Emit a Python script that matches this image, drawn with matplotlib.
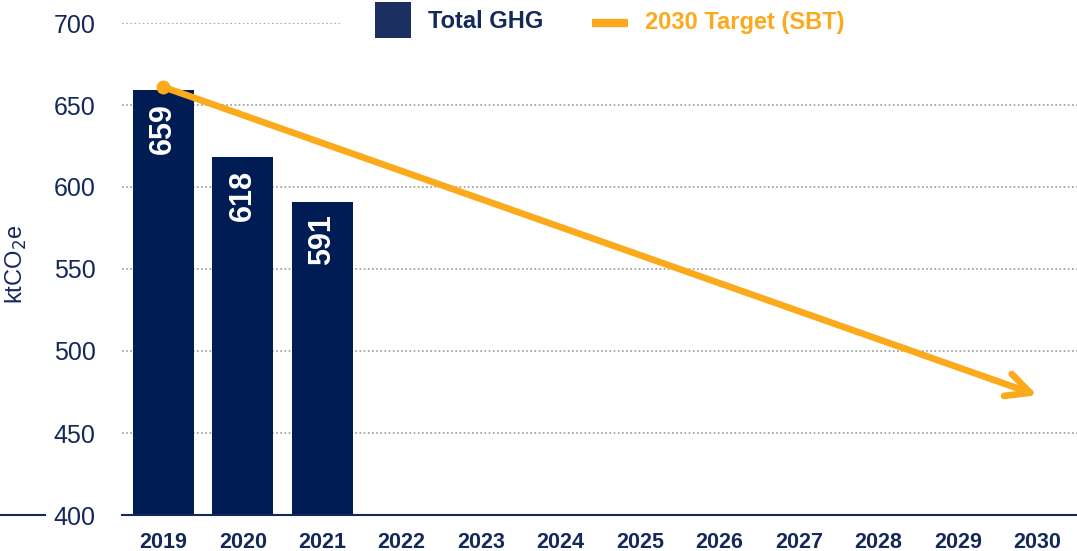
import matplotlib.pyplot as plt
from matplotlib.patches import Rectangle
from matplotlib.lines import Line2D

plt.rcParams['font.family'] = ['Liberation Sans', 'DejaVu Sans']

years = ['2019', '2020', '2021', '2022', '2023', '2024', '2025', '2026', '2027', '2028', '2029', '2030']
ghg = [659, 618, 591]
target_start = 661
target_end = 473
yticks = [400, 450, 500, 550, 600, 650, 700]

navy = '#001c54'
navy_txt = '#14285a'
orange = '#fbaa1c'

fig = plt.figure(figsize=(10.77, 5.51), dpi=100)
ax = fig.add_axes([122/1077, 36/551, 1 - 122/1077, (515-23)/551])

x = list(range(len(years)))
bars = ax.bar(x[:len(ghg)], ghg, width=0.77, color=navy, zorder=3)
for xi, v in zip(x, ghg):
    ax.annotate(str(v), (xi, v), xytext=(0, -9), textcoords='offset points',
                rotation=90, ha='center', va='top', color='white',
                fontsize=22, fontweight='bold', zorder=4)

# target arrow
ax.annotate('', xy=(x[-1], target_end), xytext=(x[0], target_start),
            arrowprops=dict(arrowstyle='->,head_length=0.85,head_width=0.42',
                            lw=4.8, color=orange, shrinkA=0, shrinkB=0,
                            mutation_scale=20, capstyle='round', joinstyle='round'),
            zorder=5)
ax.plot([x[0]], [target_start], 'o', color=orange, ms=9, zorder=6)

ax.set_xlim(-0.52, 11.5)
ax.set_ylim(400, 700)
ax.set_yticks(yticks)
ax.set_xticks(x)
ax.set_xticklabels(years, fontweight='bold', fontsize=15.5, color=navy_txt)
ax.tick_params(axis='x', length=0, pad=12)
ax.tick_params(axis='y', length=0, pad=19, labelsize=18, labelcolor=navy_txt)
ax.grid(axis='y', linestyle=(0, (1, 1.5)), color='#9a9a9a', lw=1.2, zorder=0)
for s in ['top', 'right', 'left']:
    ax.spines[s].set_visible(False)
ax.spines['bottom'].set_color(navy_txt)
ax.spines['bottom'].set_linewidth(1.5)
ax.spines['bottom'].set_zorder(6)

fig.text(16/1077, 1 - 264/551, 'ktCO$_2$e', rotation=90, ha='center', va='center',
         fontsize=17, color=navy_txt)
fig.add_artist(Line2D([0, 45/1077], [36/551, 36/551], color=navy_txt, lw=1.5))

# legend (manual)
fig.add_artist(Rectangle((340/1077, 1 - 46/551), 1 - 340/1077, 46/551,
                         facecolor='white', edgecolor='none', zorder=1))
fig.add_artist(Rectangle((375/1077, 1 - 38/551), 36/1077, 36/551,
                         facecolor='#1b3060', edgecolor='none', zorder=2))
fig.text(428/1077, 1 - 22/551, 'Total GHG', ha='left', va='center',
         fontsize=17, fontweight='bold', color=navy_txt, zorder=2)
fig.add_artist(Line2D([592/1077, 628/1077], [1 - 23/551, 1 - 23/551],
                      color=orange, lw=6, solid_capstyle='butt', zorder=2))
fig.text(645/1077, 1 - 22/551, '2030 Target (SBT)', ha='left', va='center',
         fontsize=17, fontweight='bold', color=orange, zorder=2)

fig.savefig('out.png', dpi=100)
